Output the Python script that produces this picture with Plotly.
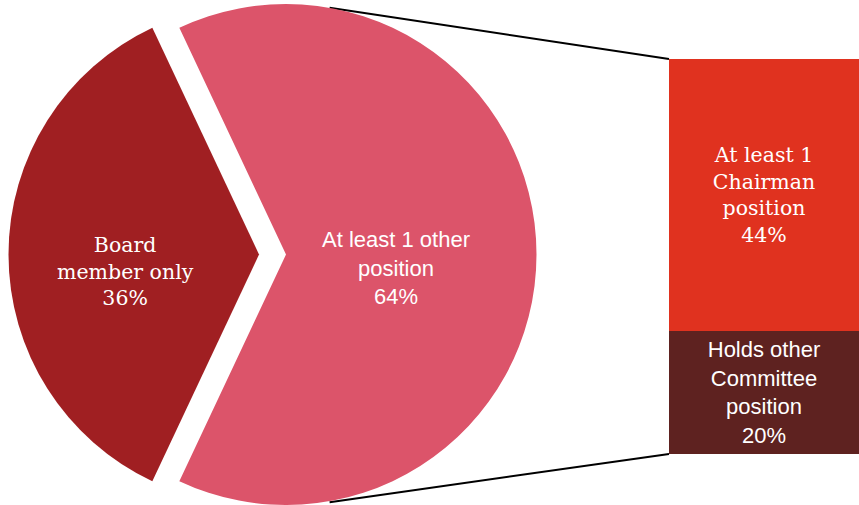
import math
import plotly.graph_objects as go

# ---- data ----
pie_labels = ["Board member only", "At least 1 other position"]
pie_values = [36, 64]
bar_labels = ["Holds other Committee position", "At least 1 Chairman position"]
bar_values = [20, 44]

# ---- styles ----
W, H = 859, 505
C_BOARD = "#A01F22"
C_OTHER = "#DC546A"
C_CHAIR = "#E0321F"
C_COMM = "#5E2220"
SERIF = "DejaVu Serif"
SANS = "Liberation Sans"
CLEAR = "rgba(0,0,0,0)"

# pie geometry (pixels)
R = 251
CY = 255
CX_OTHER = 286
CX_BOARD = 259

def dom_x(cx):
    return [(cx - R) / W, (cx + R) / W]

dom_y = [max(0, (H - CY - R) / H), min(1, (H - CY + R) / H)]

rot = 270 - pie_values[0] / sum(pie_values) * 360 / 2

fig = go.Figure()

# exploded "Board member only" slice
fig.add_trace(go.Pie(
    labels=pie_labels, values=pie_values, sort=False, direction="clockwise",
    rotation=rot, marker=dict(colors=[C_BOARD, CLEAR], line=dict(width=0)),
    textinfo="none", hoverinfo="skip", showlegend=False,
    domain=dict(x=dom_x(CX_BOARD), y=dom_y),
))
# "At least 1 other position" slice
fig.add_trace(go.Pie(
    labels=pie_labels, values=pie_values, sort=False, direction="clockwise",
    rotation=rot, marker=dict(colors=[CLEAR, C_OTHER], line=dict(width=0)),
    textinfo="none", hoverinfo="skip", showlegend=False,
    domain=dict(x=dom_x(CX_OTHER), y=dom_y),
))

# stacked bar (breakdown of the 64%)
bar_colors = [C_COMM, C_CHAIR]
bar_fonts = [SANS, SERIF]
bar_sizes = [22, 20.5]
bar_text = ["Holds other<br>Committee<br>position<br>20%",
            "At least 1<br>Chairman<br>position<br>44%"]
for lab, val, col, fam, sz, txt in zip(bar_labels, bar_values, bar_colors, bar_fonts, bar_sizes, bar_text):
    fig.add_trace(go.Bar(
        x=[0], y=[val], width=1, name=lab, marker=dict(color=col, line=dict(width=0)),
        text=[txt], texttemplate="%{text}", textposition="inside", insidetextanchor="middle",
        textangle=0, insidetextfont=dict(family=fam, size=sz, color="white"),
        hoverinfo="skip", showlegend=False,
    ))

BAR_L, BAR_T, BAR_B = 669, 59, 454
xdom = [BAR_L / W, 1]
ydom = [(H - BAR_B) / H, (H - BAR_T) / H]

# connector lines from pie to bar
ang = math.radians(10)
px_top = (CX_OTHER + R * math.sin(ang), CY - R * math.cos(ang))
px_bot = (CX_OTHER + R * math.sin(ang), CY + R * math.cos(ang))
shapes = []
for (sx, sy), ey in [(px_top, ydom[1]), (px_bot, ydom[0])]:
    shapes.append(dict(type="line", xref="paper", yref="paper",
                       x0=sx / W, y0=(H - sy) / H, x1=xdom[0], y1=ey,
                       line=dict(color="black", width=2), layer="below"))

annotations = [
    dict(text="Board<br>member only<br>36%", x=125 / W, y=(H - 271) / H, xref="paper", yref="paper",
         xanchor="center", yanchor="middle",
         showarrow=False, font=dict(family=SERIF, size=20.5, color="white"), align="center"),
    dict(text="At least 1 other<br>position<br>64%", x=396 / W, y=(H - 268) / H, xref="paper", yref="paper",
         xanchor="center", yanchor="middle",
         showarrow=False, font=dict(family=SANS, size=22, color="white"), align="center"),
]

fig.update_layout(
    width=W, height=H, margin=dict(l=0, r=0, t=0, b=0),
    paper_bgcolor="white", plot_bgcolor="rgba(0,0,0,0)",
    barmode="stack", bargap=0,
    xaxis=dict(domain=xdom, range=[-0.5, 0.5], visible=False, fixedrange=True),
    yaxis=dict(domain=ydom, range=[0, sum(bar_values)], visible=False, fixedrange=True),
    shapes=shapes, annotations=annotations, showlegend=False,
)

fig.write_html(
    "out.html",
    config={"displayModeBar": False},
    post_script="document.body.style.margin='0';document.body.style.overflow='hidden';",
)
